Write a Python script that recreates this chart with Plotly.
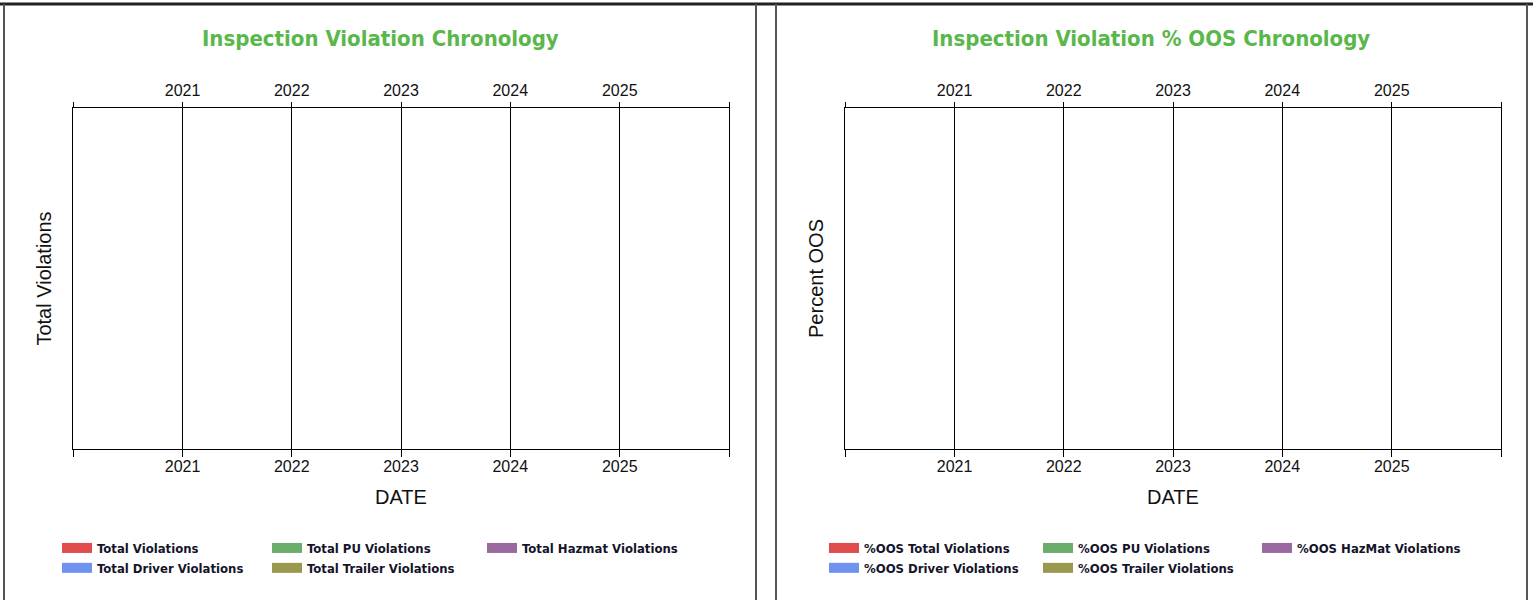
import plotly.graph_objects as go

W, H = 1533, 600

# ---- data ----
years = [2020, 2021, 2022, 2023, 2024, 2025, 2026]
year_labels = ["", "2021", "2022", "2023", "2024", "2025", ""]
left_series = ["Total Violations", "Total Driver Violations", "Total PU Violations",
               "Total Trailer Violations", "Total Hazmat Violations"]
right_series = ["%OOS Total Violations", "%OOS Driver Violations", "%OOS PU Violations",
                "%OOS Trailer Violations", "%OOS HazMat Violations"]
series_colors = ["#E04B4E", "#7092EF", "#6AAD6A", "#9A974F", "#9A69A0"]
# no inspections recorded in the period: every series is empty
left_dates = [None]
left_values = [None]
right_dates = [None]
right_values = [None]

tickvals = [f"{y}-01-01" for y in years]
xrange_ = [tickvals[0], tickvals[-1]]


def px(x):
    return x / W


def py(y):
    return 1 - y / H


TITLE_GREEN = "#5AB74B"
AX_FONT = dict(family="Liberation Sans, Arial", size=16, color="#111")
AXT_FONT = dict(family="Liberation Sans, Arial", size=20, color="#111")
LEG_FONT = dict(family="DejaVu Sans Condensed, DejaVu Sans", size=13, color="#14142a", weight="bold")

# legend column of each series (two rows per column, three columns per panel)
legend_col = ["legend", "legend", "legend2", "legend2", "legend3"]
legend_col_r = ["legend4", "legend4", "legend5", "legend5", "legend6"]

fig = go.Figure()
for i, name in enumerate(left_series):
    fig.add_trace(go.Scatter(x=left_dates, y=left_values, name=name, mode="lines",
                             line=dict(color=series_colors[i], width=13),
                             xaxis="x", yaxis="y", legend=legend_col[i]))
for i, name in enumerate(right_series):
    fig.add_trace(go.Scatter(x=right_dates, y=right_values, name=name, mode="lines",
                             line=dict(color=series_colors[i], width=13),
                             xaxis="x3", yaxis="y2", legend=legend_col_r[i]))

# empty traces so the top axes are drawn
fig.add_trace(go.Scatter(x=[], y=[], xaxis="x2", yaxis="y", showlegend=False))
fig.add_trace(go.Scatter(x=[], y=[], xaxis="x4", yaxis="y2", showlegend=False))

left_dom = [px(73), px(729)]
right_dom = [px(845), px(1501)]
ydom = [py(449), py(108)]

common_x = dict(type="date", range=xrange_, tickmode="array", tickvals=tickvals,
                ticktext=year_labels, showline=True, linecolor="#000", linewidth=1,
                gridcolor="#000", gridwidth=1, zeroline=False,
                tickcolor="#000", tickfont=AX_FONT, fixedrange=True)
common_y = dict(domain=ydom, range=[0, 1], showticklabels=False, ticks="",
                showgrid=False, zeroline=False, showline=True, mirror=True, linecolor="#000",
                linewidth=1, fixedrange=True)


def leg(xpix):
    return dict(orientation="v", x=px(xpix), y=py(533), xanchor="left", yanchor="top",
                font=LEG_FONT, itemwidth=30, bgcolor="rgba(0,0,0,0)", borderwidth=0,
                tracegroupgap=0, itemclick=False, itemdoubleclick=False)


fig.update_layout(
    width=W, height=H, margin=dict(l=0, r=0, t=0, b=0),
    paper_bgcolor="white", plot_bgcolor="white", showlegend=True,
    xaxis=dict(domain=left_dom, anchor="y", side="bottom", ticks="outside", ticklen=7, showgrid=True,
               ticklabelstandoff=-4, title=dict(text="DATE", font=AXT_FONT, standoff=15), **common_x),
    xaxis2=dict(domain=left_dom, anchor="y", overlaying="x", side="top", ticks="outside", ticklen=5,
                matches="x", showgrid=False, **common_x),
    xaxis3=dict(domain=right_dom, anchor="y2", side="bottom", ticks="outside", ticklen=7, showgrid=True,
                ticklabelstandoff=-4, title=dict(text="DATE", font=AXT_FONT, standoff=15), **common_x),
    xaxis4=dict(domain=right_dom, anchor="y2", overlaying="x3", side="top", ticks="outside", ticklen=5,
                matches="x3", showgrid=False, **common_x),
    yaxis=dict(anchor="x", title=dict(text="Total Violations", font=AXT_FONT, standoff=15), **common_y),
    yaxis2=dict(anchor="x3", title=dict(text="Percent OOS", font=AXT_FONT, standoff=15), **common_y),
    legend=leg(57), legend2=leg(267), legend3=leg(482),
    legend4=leg(824), legend5=leg(1038), legend6=leg(1257),
)

# chart titles
TITLE_FONT = dict(family="DejaVu Sans Condensed, DejaVu Sans", size=22, color=TITLE_GREEN, weight="bold")
fig.add_annotation(text="Inspection Violation Chronology", xref="paper", yref="paper",
                   x=px(380), y=py(39), xanchor="center", yanchor="middle", showarrow=False, font=TITLE_FONT)
fig.add_annotation(text="Inspection Violation % OOS Chronology", xref="paper", yref="paper",
                   x=px(1151), y=py(39), xanchor="center", yanchor="middle", showarrow=False, font=TITLE_FONT)

# panel frames
frame = dict(type="line", xref="paper", yref="paper", line=dict(color="#555", width=2))
fig.add_shape(x0=0, x1=1, y0=py(4), y1=py(4), **{**frame, "line": dict(color="#222", width=3)})
for xpix in (4, 756, 776, 1527):
    fig.add_shape(x0=px(xpix), x1=px(xpix), y0=0, y1=py(4), **frame)

fig.write_html("out.html", config={"displayModeBar": False},
               post_script="document.body.style.margin='0';document.body.style.overflow='hidden';")
